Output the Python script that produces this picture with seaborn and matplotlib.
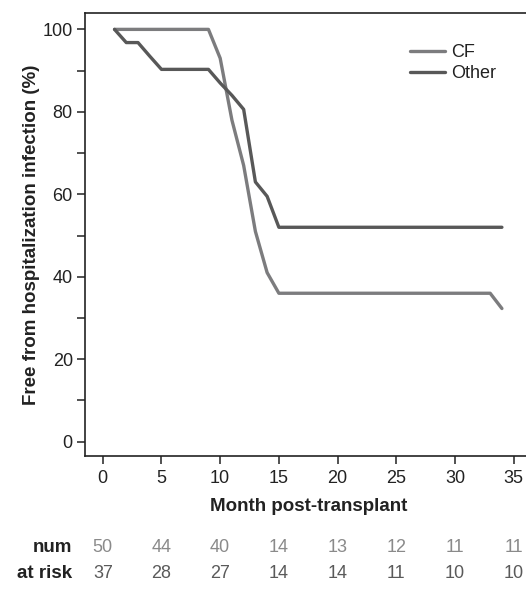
import numpy as np
import pandas as pd
import matplotlib
matplotlib.use("Agg")
import matplotlib.pyplot as plt
import matplotlib.transforms as mtransforms
import seaborn as sns

# ---- data ----
cf_month = [1, 9, 10, 11, 12, 13, 14, 15, 33, 34]
cf_free = [100, 100, 93, 78, 67, 51, 41, 36, 36, 32.3]
other_month = [1, 2, 3, 4, 5, 9, 10, 11, 12, 13, 14, 15, 34]
other_free = [100, 96.8, 96.8, 93.5, 90.3, 90.3, 87, 84, 80.6, 63, 59.5, 52, 52]
groups = ["CF", "Other"]
risk_months = [0, 5, 10, 15, 20, 25, 30, 35]
num_cf = [50, 44, 40, 14, 13, 12, 11, 11]
num_other = [37, 28, 27, 14, 14, 11, 10, 10]
row_labels = ["num", "at risk"]

df = pd.concat([
    pd.DataFrame({"month": cf_month, "free": cf_free, "group": groups[0]}),
    pd.DataFrame({"month": other_month, "free": other_free, "group": groups[1]}),
], ignore_index=True)

sns.set_style("ticks")
plt.rcParams["font.family"] = ["Liberation Sans", "DejaVu Sans"]

W, H = 526, 593
fig = plt.figure(figsize=(W / 100, H / 100), dpi=100)
ax = fig.add_axes([85.3 / W, 1 - 455.7 / H, 1 - 85.3 / W + 0.01, (455.7 - 13.3) / H])

palette = {"CF": "#7c7c7e", "Other": "#585858"}
sns.lineplot(data=df, x="month", y="free", hue="group", palette=palette,
             linewidth=2.4, ax=ax, sort=False, estimator=None)

ax.set_xlim(-1.49, 36.5)
ax.set_ylim(-3.4, 103.9)
ax.set_xticks(np.arange(0, 36, 5))
ax.set_yticks(np.arange(0, 101, 20))
ax.set_yticks(np.arange(10, 100, 20), minor=True)
ax.tick_params(axis="both", which="both", direction="out", length=6, width=1.1,
               color="#222222", labelsize=13, labelcolor="#222222")
ax.tick_params(axis="x", pad=4)
ax.tick_params(axis="y", pad=3)
for s in ["left", "top", "bottom"]:
    ax.spines[s].set_linewidth(1.2)
    ax.spines[s].set_color("#222222")
ax.spines["right"].set_visible(False)

ax.set_xlabel("Month post-transplant", fontsize=13.5, fontweight="bold", color="#222222", labelpad=8)
ax.set_ylabel("Free from hospitalization infection (%)", fontsize=13.5, fontweight="bold",
              color="#222222", labelpad=2)

leg = ax.legend(loc="upper left", bbox_to_anchor=(410 / W, 1 - 44 / H),
                bbox_transform=fig.transFigure,
                frameon=False, fontsize=13, handlelength=1.95, handletextpad=0.3,
                labelspacing=0.22, borderaxespad=0, borderpad=0)
for t in leg.get_texts():
    t.set_color("#222222")

trans = mtransforms.blended_transform_factory(ax.transData, fig.transFigure)
row_y = [1 - 548 / H, 1 - 573 / H]
row_colors = ["#8a8a8a", "#5a5a5a"]
for yy, lab, vals, col in zip(row_y, row_labels, [num_cf, num_other], row_colors):
    fig.text(72 / W, yy, lab, ha="right", va="center", fontsize=13.5, fontweight="bold", color="#222222")
    for m, v in zip(risk_months, vals):
        ax.text(m, yy, str(v), transform=trans, ha="center", va="center",
                fontsize=13, color=col, clip_on=False)

fig.savefig("out.png", dpi=100)
